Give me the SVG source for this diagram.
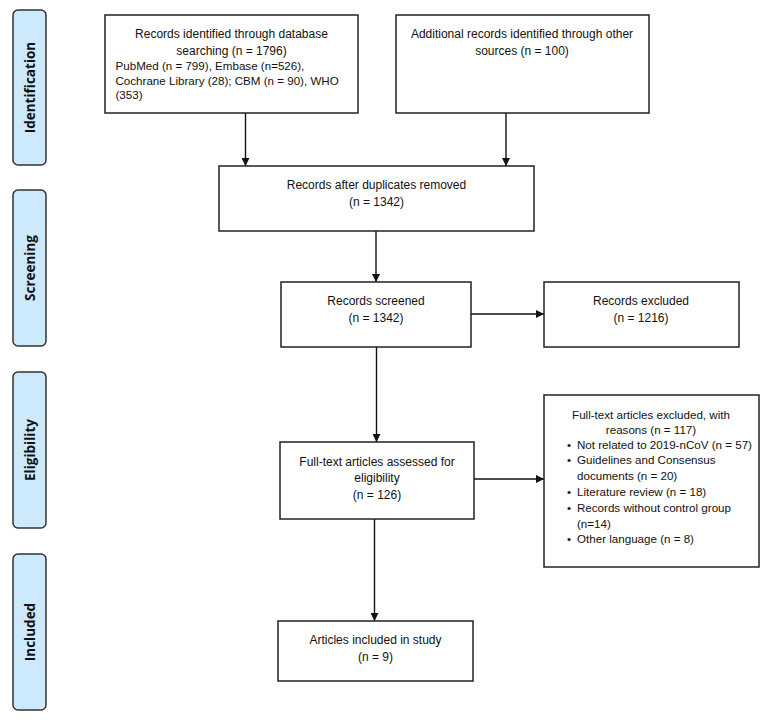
<svg xmlns="http://www.w3.org/2000/svg" width="770" height="720" viewBox="0 0 770 720">
<style>
.bg{fill:#ffffff}
.box{fill:#ffffff;stroke:#222222;stroke-width:1.5}
.side{fill:#cdeafc;stroke:#333333;stroke-width:1.5}
.t{font-family:"Liberation Sans",Arial,sans-serif;font-size:12px;fill:#111111}
.s{font-size:11.6px}
.c{text-anchor:middle}
.lab{font-family:"Open Sans","DejaVu Sans",sans-serif;font-size:13.5px;font-weight:bold;fill:#111111;text-anchor:middle}
.con{stroke:#111111;stroke-width:1.4;fill:none;marker-end:url(#ah)}
</style>
<defs>
<marker id="ah" markerWidth="8" markerHeight="8" refX="8" refY="4" orient="auto" markerUnits="userSpaceOnUse">
<path d="M0,0 L8,4 L0,8 Z" fill="#111111"/>
</marker>
</defs>
<rect class="bg" x="0" y="0" width="770" height="720"/>

<g id="phase-identification">
<rect class="side" x="13" y="10" width="33" height="155" rx="5"/>
<text class="lab" transform="translate(35,87.5) rotate(-90)">Identification</text>
</g>
<g id="phase-screening">
<rect class="side" x="13" y="190" width="33" height="156" rx="5"/>
<text class="lab" transform="translate(35,268) rotate(-90)">Screening</text>
</g>
<g id="phase-eligibility">
<rect class="side" x="13" y="372" width="33" height="156" rx="5"/>
<text class="lab" transform="translate(35,450) rotate(-90)">Eligibility</text>
</g>
<g id="phase-included">
<rect class="side" x="13" y="554" width="33" height="156" rx="5"/>
<text class="lab" transform="translate(35,632) rotate(-90)">Included</text>
</g>

<g id="connectors">
<line class="con" x1="245.5" y1="113" x2="245.5" y2="166"/>
<line class="con" x1="506" y1="113" x2="506" y2="166"/>
<line class="con" x1="376" y1="231" x2="376" y2="282"/>
<line class="con" x1="471" y1="314" x2="544" y2="314"/>
<line class="con" x1="376.5" y1="347" x2="376.5" y2="442"/>
<line class="con" x1="474" y1="479" x2="544" y2="479"/>
<line class="con" x1="374.5" y1="519" x2="374.5" y2="621"/>
</g>

<g id="node-db">
<rect class="box" x="105" y="15" width="253" height="98"/>
<text class="t c" x="231.5" y="37.5">Records identified through database</text>
<text class="t c" x="231.5" y="55">searching (n = 1796)</text>
<text class="t s" x="115.5" y="70">PubMed (n = 799), Embase (n=526),</text>
<text class="t s" x="115.5" y="84.5">Cochrane Library (28); CBM (n = 90), WHO</text>
<text class="t s" x="115.5" y="99">(353)</text>
</g>
<g id="node-other">
<rect class="box" x="396" y="15" width="253" height="98"/>
<text class="t c" x="522" y="37.5">Additional records identified through other</text>
<text class="t c" x="522" y="55">sources (n = 100)</text>
</g>
<g id="node-dedup">
<rect class="box" x="219" y="166" width="315" height="65"/>
<text class="t c" x="376.5" y="189">Records after duplicates removed</text>
<text class="t c" x="376.5" y="206">(n = 1342)</text>
</g>
<g id="node-screened">
<rect class="box" x="281" y="282" width="190" height="65"/>
<text class="t c" x="376" y="305">Records screened</text>
<text class="t c" x="376" y="322">(n = 1342)</text>
</g>
<g id="node-excluded">
<rect class="box" x="544" y="282" width="195" height="65"/>
<text class="t c" x="641" y="305">Records excluded</text>
<text class="t c" x="641" y="322">(n = 1216)</text>
</g>
<g id="node-fulltext">
<rect class="box" x="280" y="442" width="194" height="77"/>
<text class="t c" x="377" y="465.5">Full-text articles assessed for</text>
<text class="t c" x="377" y="482">eligibility</text>
<text class="t c" x="377" y="499">(n = 126)</text>
</g>
<g id="node-ftexcluded">
<rect class="box" x="544" y="395" width="215" height="172"/>
<text class="t s c" x="651" y="418.5">Full-text articles excluded, with</text>
<text class="t s c" x="651" y="434">reasons (n = 117)</text>
<text class="t s" x="567" y="448.5">•</text><text class="t s" x="577" y="448.5">Not related to 2019-nCoV (n = 57)</text>
<text class="t s" x="567" y="464">•</text><text class="t s" x="577" y="464">Guidelines and Consensus</text>
<text class="t s" x="577" y="480">documents (n = 20)</text>
<text class="t s" x="567" y="495.5">•</text><text class="t s" x="577" y="495.5">Literature review (n = 18)</text>
<text class="t s" x="567" y="511.5">•</text><text class="t s" x="577" y="511.5">Records without control group</text>
<text class="t s" x="577" y="527.5">(n=14)</text>
<text class="t s" x="567" y="543">•</text><text class="t s" x="577" y="543">Other language (n = 8)</text>
</g>
<g id="node-included">
<rect class="box" x="278" y="621" width="195" height="60"/>
<text class="t c" x="375.5" y="644">Articles included in study</text>
<text class="t c" x="375.5" y="661">(n = 9)</text>
</g>
</svg>
